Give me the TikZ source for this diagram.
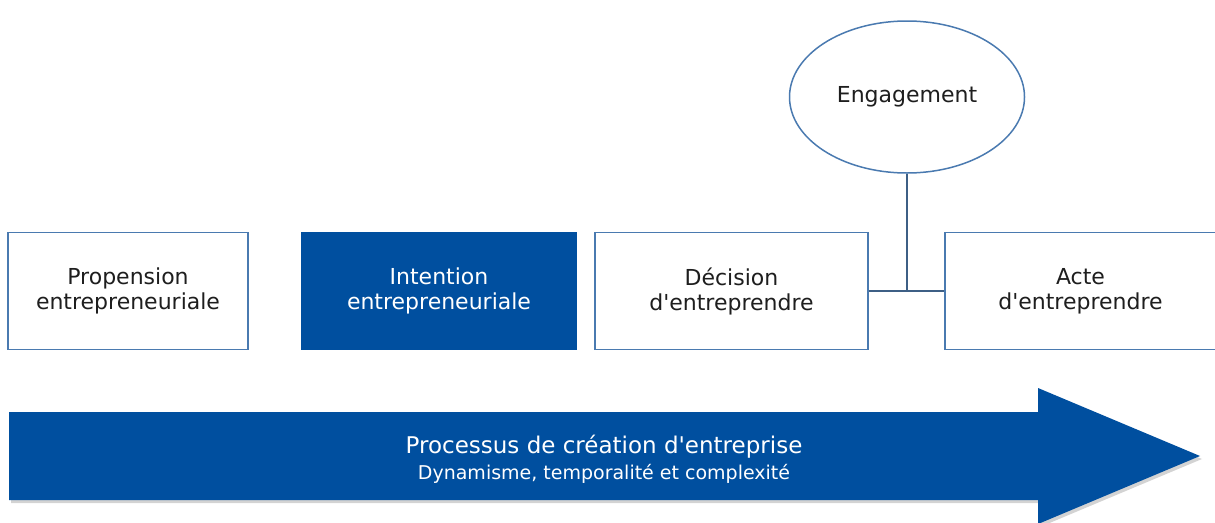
\documentclass[tikz,border=0pt]{standalone}
\usepackage{fontspec}
\setmainfont{DejaVu Sans}
\usepackage{xcolor}
\usetikzlibrary{shapes.geometric, shadows, calc}
\definecolor{procblue}{HTML}{004F9F}
\definecolor{boxline}{HTML}{4A7AB0}
\definecolor{linkline}{HTML}{3D5F85}
\definecolor{txtgray}{HTML}{1E1E1E}
\newcommand{\apos}{\textquotesingle}
\tikzset{
  stage/.style={draw=boxline, line width=1.5pt, fill=white, minimum height=117pt,
    text=txtgray, align=center, font=\fontsize{22}{25}\selectfont},
  stagefull/.style={stage, draw=procblue, fill=procblue, text=white},
  link/.style={draw=linkline, line width=1.5pt}
}

\begin{document}
\begin{tikzpicture}[x=1pt, y=-1pt]
  \useasboundingbox (0,0) rectangle (1215,522);

  \node[stage, minimum width=240pt] (prop) at (128, 291) {Propension\\entrepreneuriale};
  \node[stagefull, minimum width=274pt] (intent) at (439, 291) {Intention\\entrepreneuriale};
  \node[stage, minimum width=273pt] (dec) at (731.5, 291) {Décision\\d\apos entreprendre};
  \node[stage, minimum width=271pt] (act) at (1080.5, 291) {Acte\\d\apos entreprendre};
  \node[ellipse, draw=boxline, line width=1.5pt, fill=white, text=txtgray,
    minimum width=235pt, minimum height=152pt, font=\fontsize{22}{25}\selectfont] (eng) at (907, 97) {Engagement};

  \coordinate (join) at (eng.south |- dec.east);
  \draw[link] (eng.south) -- (join);
  \draw[link] (dec.east) -- (act.west);

  % arrow of the process
  \fill[procblue, drop shadow={shadow xshift=2pt, shadow yshift=-3pt, opacity=0.35}]
    (9,412) -- (1038,412) -- (1038,388) -- (1200,456) -- (1038,524) -- (1038,500) -- (9,500) -- cycle;
  \node[text=white, align=center] (proc) at (604, 459)
    {\fontsize{23}{27}\selectfont Processus de création d\apos entreprise\\[5pt]
     \fontsize{19}{22}\selectfont Dynamisme, temporalité et complexité};
\end{tikzpicture}
\end{document}
